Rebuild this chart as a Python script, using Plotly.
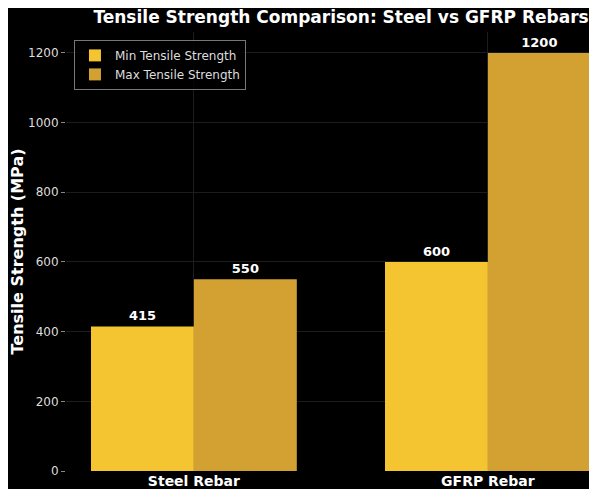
import plotly.graph_objects as go

categories = ["Steel Rebar", "GFRP Rebar"]
min_strength = [415, 600]
max_strength = [550, 1200]
series_names = ["Min Tensile Strength", "Max Tensile Strength"]
y_ticks = [0, 200, 400, 600, 800, 1000, 1200]

fig = go.Figure()
fig.add_trace(go.Bar(
    x=categories, y=min_strength, name=series_names[0],
    marker=dict(color="#F5C431", line=dict(width=0)),
    text=[str(v) for v in min_strength], textposition="outside",
    textfont=dict(family="DejaVu Sans", size=13, color="white"),
    texttemplate="<b>%{text}</b>", cliponaxis=False,
))
fig.add_trace(go.Bar(
    x=categories, y=max_strength, name=series_names[1],
    marker=dict(color="#D3A132", line=dict(width=0)),
    text=[str(v) for v in max_strength], textposition="outside",
    textfont=dict(family="DejaVu Sans", size=13, color="white"),
    texttemplate="<b>%{text}</b>", cliponaxis=False,
))

fig.update_layout(
    width=597, height=489,
    paper_bgcolor="black", plot_bgcolor="black",
    margin=dict(l=58, r=8, t=24, b=26, autoexpand=False),
    barmode="group", bargap=0.3, bargroupgap=0,
    font=dict(family="DejaVu Sans", color="white"),
    title=dict(text="<b>Tensile Strength Comparison: Steel vs GFRP Rebars</b>",
               x=0.518, xanchor="center", y=0.982, yanchor="middle",
               xref="paper", yref="container",
               font=dict(size=17, color="white")),
    legend=dict(x=0.015, y=0.982, xanchor="left", yanchor="top",
                bgcolor="rgba(0,0,0,0.8)", bordercolor="#777", borderwidth=1,
                font=dict(size=12, color="#dddddd"), tracegroupgap=2),
    showlegend=True,
)
fig.update_xaxes(
    range=[-0.435, 1.371], showgrid=True, gridcolor="#1c1c1c", gridwidth=1,
    tickfont=dict(size=14, color="white", family="DejaVu Sans"),
    tickprefix="<b>", ticksuffix="</b>",
    ticks="", showline=False, zeroline=False, automargin=False,
)
fig.update_yaxes(
    range=[0, 1260], tickvals=y_ticks, showgrid=True, gridcolor="#1c1c1c", gridwidth=1,
    tickfont=dict(size=12, color="#dddddd"),
    ticks="outside", ticklen=4, tickcolor="#888", showline=False, zeroline=False,
    automargin=False,
    title=dict(text="<b>Tensile Strength (MPa)</b>", font=dict(size=16, color="white"), standoff=4),
)

fig.write_html("out.html")
